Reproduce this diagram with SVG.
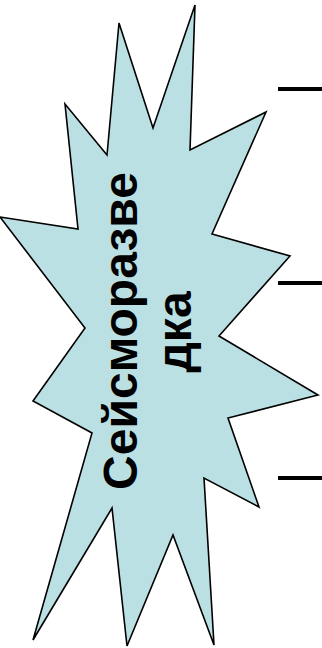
<svg xmlns="http://www.w3.org/2000/svg" width="322" height="648" viewBox="0 0 322 648">
<style>
.burst{fill:#BBE0E3;stroke:#000;stroke-width:1.6;stroke-linejoin:miter}
.lbl{font-family:"Liberation Sans",Arial,sans-serif;font-weight:bold;font-size:48px;fill:#000;text-anchor:middle}
.dash{stroke:#000;stroke-width:4}
</style>
<g id="burst">
<polygon class="burst" points="195,5 153,128 119,23 107,155 65,104 78,229 0,217 85,328 33,401 92,433 33,640 112,508 127,646 173,535 214,645 204,478 259,507 228,418 318,395 219,336 290,256 212,234 266,112 190,150"/>
<text class="lbl" transform="translate(137,331) rotate(-90)">Сейсморазве</text>
<text class="lbl" transform="translate(191,332) rotate(-90)">дка</text>
</g>
<g id="connectors">
<line class="dash" x1="278" y1="89" x2="322" y2="89"/>
<line class="dash" x1="278" y1="283" x2="322" y2="283"/>
<line class="dash" x1="278" y1="478" x2="322" y2="478"/>
</g>
</svg>
